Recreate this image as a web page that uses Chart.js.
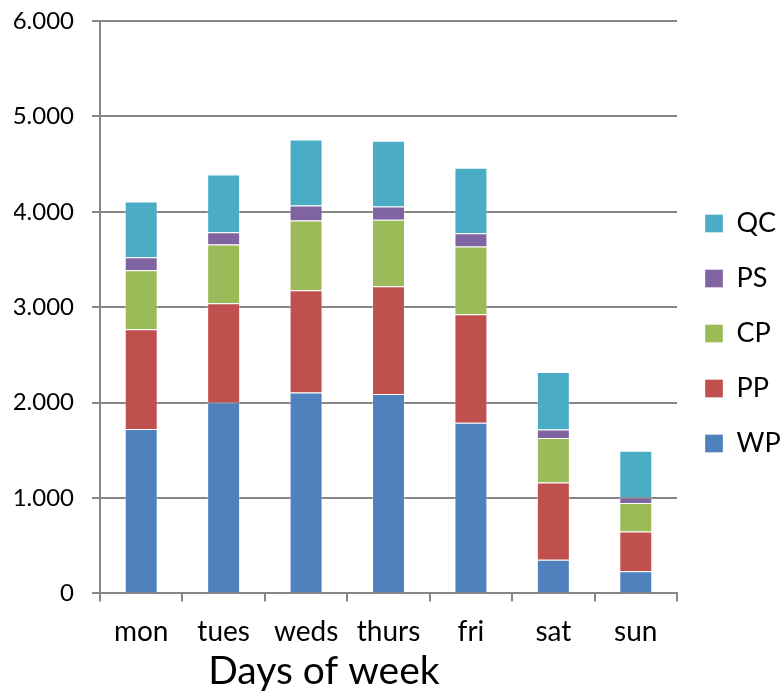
<!DOCTYPE html>
<html>
<head>
<meta charset="utf-8">
<script src="https://cdn.jsdelivr.net/npm/chart.js@4/dist/chart.umd.min.js"></script>
<style>
  html, body { margin: 0; padding: 0; background: #fff; }
  #wrap { width: 783px; height: 693px; }
</style>
</head>
<body>
<div id="wrap"><canvas id="c" width="783" height="693"></canvas></div>
<script>
const categories = ["mon", "tues", "weds", "thurs", "fri", "sat", "sun"];
const WP = [1723, 2000, 2107, 2090, 1789, 352, 233];
const PP = [1045, 1041, 1070, 1129, 1137, 811, 416];
const CP = [619, 616, 732, 697, 710, 466, 298];
const PS = [137, 129, 157, 140, 140, 90, 59];
const QC = [584, 605, 693, 689, 686, 602, 489];
const yTicks = [0, 1000, 2000, 3000, 4000, 5000, 6000];
const xTitle = "Days of week";

const FONT = "Lato, 'Open Sans', sans-serif";

function fmt(v) {
  if (v === 0) return "0";
  return v.toLocaleString("de-DE");
}

const titlePlugin = {
  id: "xTitle",
  afterDraw(chart) {
    const { ctx, chartArea } = chart;
    ctx.save();
    ctx.font = "39px " + FONT;
    ctx.fillStyle = "#000";
    ctx.textAlign = "center";
    ctx.textBaseline = "middle";
    const x = chartArea.left + chartArea.width * 0.388;
    ctx.fillText(xTitle, x, 671);
    ctx.restore();
  }
};

new Chart(document.getElementById("c"), {
  type: "bar",
  data: {
    labels: categories,
    datasets: [
      { label: "WP", data: WP, backgroundColor: "#4F81BD" },
      { label: "PP", data: PP, backgroundColor: "#C0504D" },
      { label: "CP", data: CP, backgroundColor: "#9BBB59" },
      { label: "PS", data: PS, backgroundColor: "#8064A2" },
      { label: "QC", data: QC, backgroundColor: "#4BACC6" }
    ].map(d => Object.assign(d, {
      borderColor: "rgba(255,255,255,0.35)",
      borderWidth: 1,
      barPercentage: 0.4,
      categoryPercentage: 1.0
    }))
  },
  options: {
    responsive: false,
    animation: false,
    devicePixelRatio: 1,
    layout: { padding: { left: 14, top: 4, right: 0, bottom: 30 } },
    plugins: {
      title: { display: false },
      tooltip: { enabled: false },
      legend: {
        position: "right",
        reverse: true,
        maxWidth: 106,
        labels: {
          boxWidth: 18,
          boxHeight: 18,
          padding: 28,
          color: "#000",
          font: { family: FONT, size: 27 }
        }
      }
    },
    scales: {
      x: {
        stacked: true,
        offset: true,
        grid: {
          offset: true,
          drawOnChartArea: false,
          drawTicks: true,
          tickLength: 8,
          color: "#868686",
          lineWidth: 2
        },
        border: { display: true, color: "#868686", width: 2 },
        ticks: {
          color: "#000",
          padding: 14,
          font: { family: FONT, size: 28 }
        }
      },
      y: {
        stacked: true,
        min: 0,
        max: 6000,
        afterBuildTicks(scale) {
          scale.ticks = yTicks.map(v => ({ value: v }));
        },
        afterFit(scale) {
          scale.width = 86;
          scale.paddingTop = 21;
          scale.paddingBottom = 0;
        },
        grid: {
          color: "#868686",
          lineWidth: 2,
          drawTicks: true,
          tickLength: 8
        },
        border: { display: true, color: "#868686", width: 2 },
        ticks: {
          color: "#000",
          padding: 18,
          font: { family: FONT, size: 24 },
          callback: (v) => fmt(v)
        }
      }
    }
  },
  plugins: [titlePlugin]
});
</script>
</body>
</html>
